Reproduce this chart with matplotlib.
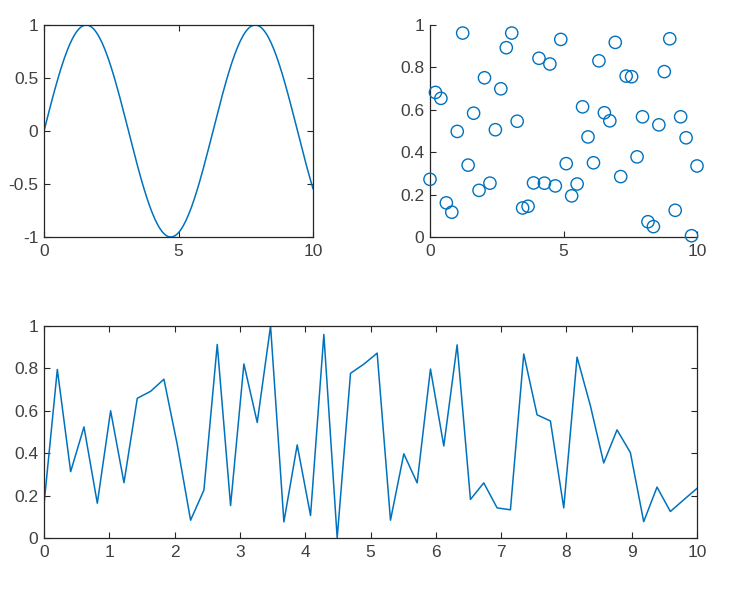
import numpy as np
import matplotlib
matplotlib.use("Agg")
import matplotlib.pyplot as plt

plt.rcParams['font.family'] = ['Liberation Sans', 'DejaVu Sans']

# --- data ---
sine_x = np.linspace(0, 10, 200)
sine_y = np.sin(sine_x)

scatter_x = np.linspace(0, 10, 50)
scatter_y = [0.272, 0.682, 0.654, 0.161, 0.117, 0.498, 0.962, 0.339, 0.584, 0.220,
             0.751, 0.254, 0.506, 0.699, 0.893, 0.962, 0.546, 0.137, 0.145, 0.255,
             0.843, 0.254, 0.816, 0.241, 0.932, 0.346, 0.194, 0.250, 0.614, 0.472,
             0.350, 0.831, 0.586, 0.548, 0.918, 0.285, 0.759, 0.756, 0.378, 0.567,
             0.072, 0.049, 0.529, 0.780, 0.935, 0.126, 0.567, 0.468, 0.006, 0.335]

line_x = np.linspace(0, 10, 50)
line_y = [0.158, 0.795, 0.313, 0.524, 0.164, 0.600, 0.261, 0.659, 0.692, 0.749,
          0.440, 0.084, 0.226, 0.913, 0.153, 0.821, 0.545, 1.000, 0.076, 0.439,
          0.106, 0.960, 0.000, 0.777, 0.820, 0.872, 0.084, 0.397, 0.260, 0.797,
          0.434, 0.911, 0.182, 0.260, 0.142, 0.133, 0.868, 0.581, 0.552, 0.142,
          0.853, 0.624, 0.354, 0.510, 0.403, 0.077, 0.240, 0.125, 0.180, 0.234]

sine_yticks = [-1, -0.5, 0, 0.5, 1]
sine_yticklabels = ['-1', '-0.5', '0', '0.5', '1']
sine_xticks = [0, 5, 10]
scatter_yticks = [0, 0.2, 0.4, 0.6, 0.8, 1]
scatter_yticklabels = ['0', '0.2', '0.4', '0.6', '0.8', '1']
line_xticks = list(range(11))
line_yticks = [0, 0.2, 0.4, 0.6, 0.8, 1]

color = '#0072BD'
axcol = '#262626'
txtcol = '#404040'

W, H = 733, 591
fig = plt.figure(figsize=(W / 100, H / 100), dpi=100)


def rect(x0, y0, x1, y1):
    return [x0 / W, 1 - y1 / H, (x1 - x0) / W, (y1 - y0) / H]


def style(ax, box=True):
    for s in ax.spines.values():
        s.set_color(axcol)
        s.set_linewidth(0.9)
    if not box:
        ax.spines['top'].set_visible(False)
        ax.spines['right'].set_visible(False)
    ax.tick_params(direction='in', length=4, width=0.8, colors=axcol,
                   labelsize=12.5, labelcolor=txtcol,
                   top=box, right=box)
    ax.tick_params(axis='x', pad=5)
    ax.tick_params(axis='y', pad=4)


ax1 = fig.add_axes(rect(44, 25, 313, 237))
ax1.plot(sine_x, sine_y, color=color, lw=1.1)
ax1.set_xlim(0, 10)
ax1.set_ylim(-1, 1)
ax1.set_xticks(sine_xticks)
ax1.set_yticks(sine_yticks)
ax1.set_yticklabels(sine_yticklabels)
style(ax1, True)

ax2 = fig.add_axes(rect(430, 25, 697, 237))
ax2.scatter(scatter_x, scatter_y, s=78, facecolors='none', edgecolors=color,
            linewidths=1.0, clip_on=False, zorder=3)
ax2.set_xlim(0, 10)
ax2.set_ylim(0, 1)
ax2.set_xticks(sine_xticks)
ax2.set_yticks(scatter_yticks)
ax2.set_yticklabels(scatter_yticklabels)
style(ax2, False)

ax3 = fig.add_axes(rect(44, 326, 697, 538))
ax3.plot(line_x, line_y, color=color, lw=1.1)
ax3.set_xlim(0, 10)
ax3.set_ylim(0, 1)
ax3.set_xticks(line_xticks)
ax3.set_yticks(line_yticks)
ax3.set_yticklabels(scatter_yticklabels)
style(ax3, True)

fig.savefig('out.png', dpi=100, facecolor='white')
